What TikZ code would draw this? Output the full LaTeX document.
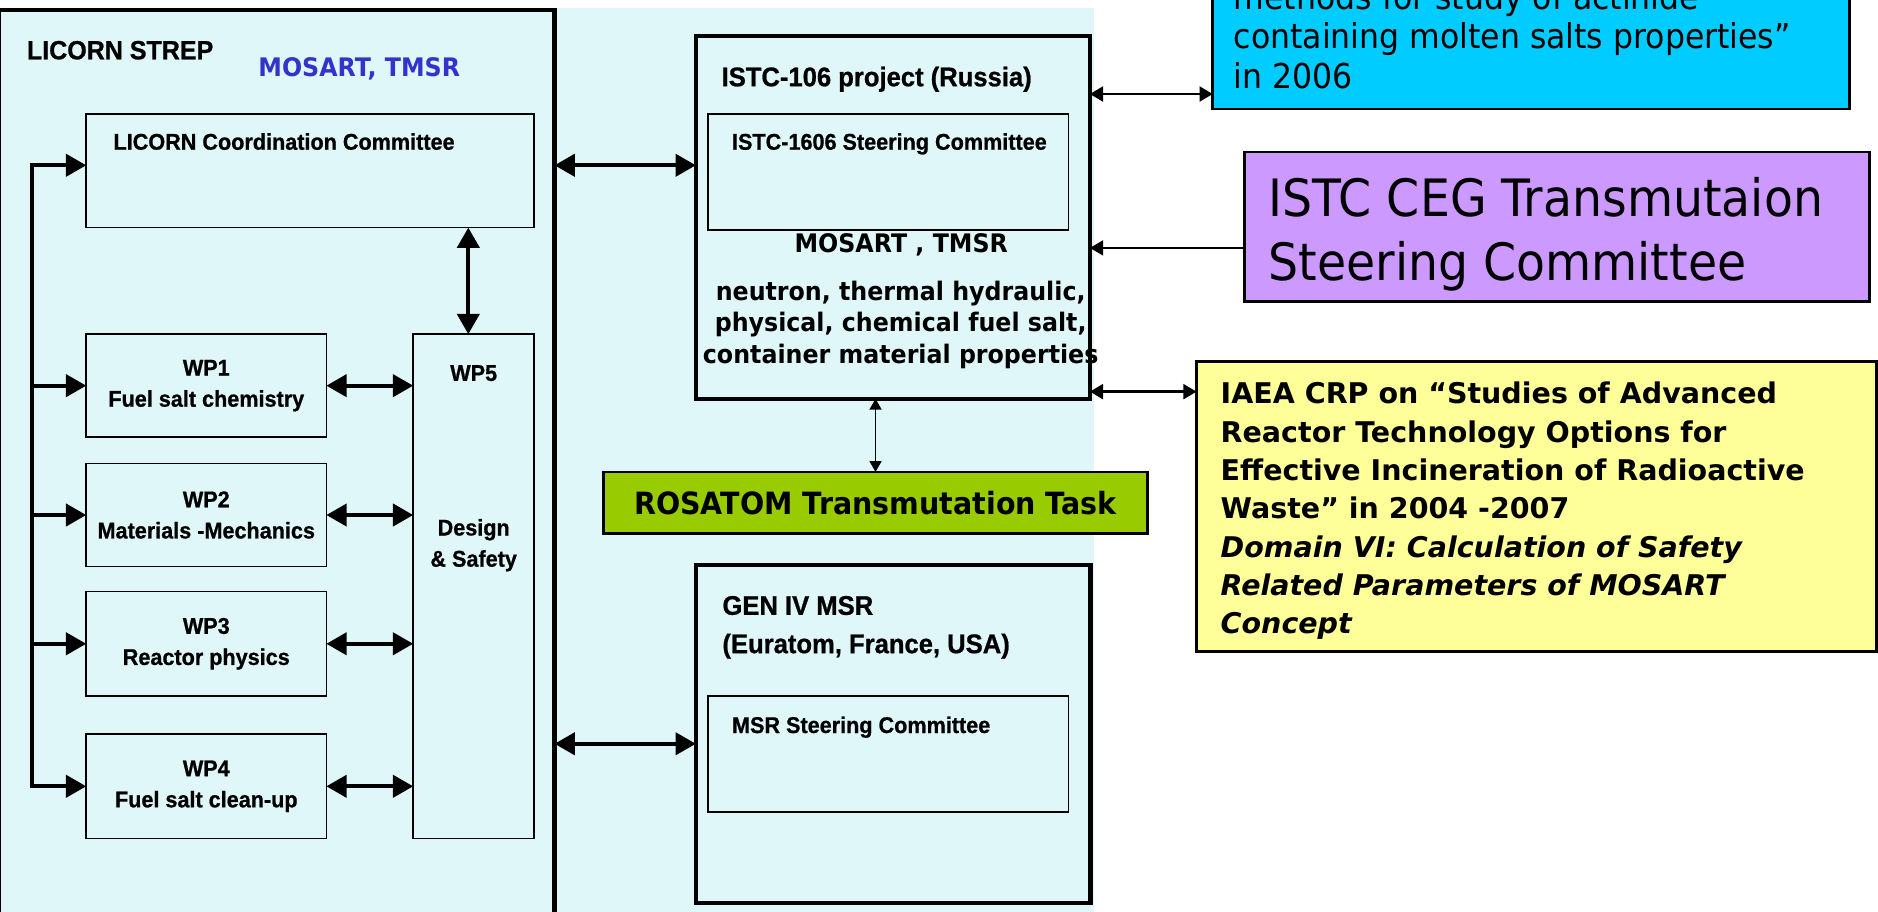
\documentclass[tikz,border=0pt]{standalone}
\usepackage{fontspec}
\usepackage{tikz}
\usetikzlibrary{arrows.meta, positioning}

\newfontfamily\arialfont[FakeStretch=0.95, FakeBold=0.8]{Liberation Sans Bold}
\newfontfamily\tahomafont[FakeStretch=0.92]{DejaVu Sans}
\newfontfamily\tahomabold[FakeStretch=0.93]{DejaVu Sans}
\newfontfamily\verdanafont{DejaVu Sans}

\definecolor{paleCyan}{RGB}{224,247,250}
\definecolor{skyBlue}{RGB}{0,204,255}
\definecolor{lilac}{RGB}{204,153,255}
\definecolor{paleYellow}{RGB}{255,255,153}
\definecolor{limeGreen}{RGB}{153,204,0}
\definecolor{textBlue}{RGB}{51,51,204}

\begin{document}
\begin{tikzpicture}[x=1pt,y=-1pt,
        frame/.style={draw, line width=3.5pt, inner sep=0pt, outer sep=0pt},
        box/.style={draw, line width=1.3pt, inner sep=0pt, outer sep=0pt},
        colbox/.style={draw, line width=2.3pt, inner sep=0pt, outer sep=0pt},
        lbl/.style={inner sep=0pt, anchor=base west},
        wpf/.style={font=\arialfont\fontsize{19}{26}\selectfont},
        headf/.style={font=\arialfont\fontsize{22.5}{32}\selectfont},
        mosf/.style={font=\tahomabold\bfseries\fontsize{21.3}{26.3}\selectfont},
        rosf/.style={font=\tahomabold\bfseries\fontsize{25.6}{30}\selectfont},
        iaeaf/.style={font=\verdanafont\bfseries\fontsize{23.8}{32}\selectfont},
        cegf/.style={font=\tahomafont\fontsize{43}{53}\selectfont},
        projf/.style={font=\tahomafont\fontsize{28.6}{33}\selectfont},
        bigarr/.style={line width=3.3pt, >={Triangle[length=17pt,width=18.5pt]}},
        thinarr/.style={line width=2pt, >={Triangle[length=11pt,width=12.5pt]}},
        cegarr/.style={line width=1.5pt, >={Triangle[length=11pt,width=12.5pt]}},
        rosarr/.style={line width=1.3pt, >={Triangle[length=9pt,width=10pt]}}]

    \useasboundingbox (0,0) rectangle (1568,761);
    \fill[paleCyan] (0,7) rectangle (913,775);

    % LICORN STREP
    \node[frame, minimum width=463.5pt, minimum height=766pt] (licorn) at (231.25,391.5) {};
    \node[lbl, font=\arialfont\fontsize{22}{26}\selectfont] (strep) at (22.3,49.5) {LICORN STREP};
    \node[lbl, mosf, text=textBlue] (strepdesign) at (215.6,64) {MOSART, TMSR};

    \node[box, minimum width=374pt, minimum height=95pt] (coord) at (259,142.5) {};
    \node[lbl, wpf] (coordtitle) at (94.6,125) {LICORN Coordination Committee};

    \node[box, wpf, align=center, minimum width=200.5pt, minimum height=86pt] (wp1) at (172.25,322) {WP1\\Fuel salt chemistry};
    \node[box, wpf, align=center, minimum width=200.5pt, minimum height=86pt] (wp2) [below=22pt of wp1] {WP2\\Materials -Mechanics};
    \node[box, wpf, align=center, minimum width=200.5pt, minimum height=87pt] (wp3) [below=21pt of wp2] {WP3\\Reactor physics};
    \node[box, wpf, align=center, minimum width=200.5pt, minimum height=87pt] (wp4) [below=32pt of wp3] {WP4\\Fuel salt clean-up};

    \node[box, minimum width=101pt, minimum height=421pt] (wp5) at (395.5,489.5) {};
    \node[inner sep=0pt, anchor=base, wpf] (wp5num) at (395.5,318) {WP5};
    \node[inner sep=0pt, wpf, align=center] (wp5name) at (395.5,455.2) {Design\\\& Safety};

    % ISTC and GEN IV
    \node[frame, minimum width=329pt, minimum height=303pt] (istc) at (745.5,181.5) {};
    \node[lbl, headf] (istctitle) at (602.3,72) {ISTC-106 project (Russia)};
    \node[box, minimum width=301pt, minimum height=97pt] (istcsc) at (741.5,143.5) {};
    \node[lbl, wpf] (istcsctitle) at (611,125) {ISTC-1606 Steering Committee};
    \node[inner sep=0pt, anchor=base, mosf] (istcdesign) at (752.5,211) {MOSART , TMSR};
    \node[inner sep=0pt, mosf, align=center] (istctopics) at (752,271.2) {neutron, thermal hydraulic,\\physical, chemical fuel salt,\\container material properties};

    \node[colbox, fill=limeGreen, rosf, minimum width=454pt, minimum height=51.5pt] (rosatom) at (731,419.75) {ROSATOM Transmutation Task};

    \node[frame, minimum width=329.5pt, minimum height=282pt] (gen) at (745.75,613) {};
    \node[inner sep=0pt, anchor=west, headf, align=left] (gentitle) at (603,523.8) {GEN IV MSR\\(Euratom, France, USA)};
    \node[box, minimum width=301pt, minimum height=97pt] (msrsc) at (741.5,629.5) {};
    \node[lbl, wpf] (msrsctitle) at (611,612) {MSR Steering Committee};

    % right column
    \node[colbox, fill=skyBlue, minimum width=531.5pt, minimum height=151pt] (project) at (1278.25,15.5) {};
    \node[inner sep=0pt, anchor=west, projf, align=left] (projtext) at (1030,30.15) {methods for study of actinide\\containing molten salts properties”\\in 2006};

    \node[colbox, fill=lilac, minimum width=522pt, minimum height=125pt] (ceg) at (1300,189.5) {};
    \node[inner sep=0pt, anchor=west, cegf, align=left] (cegtext) at (1059,195.8) {ISTC CEG Transmutaion\\Steering Committee};

    \node[colbox, fill=paleYellow, minimum width=568pt, minimum height=242pt] (iaea) at (1283,423) {};
    \node[inner sep=0pt, anchor=west, iaeaf, align=left] (iaeatext) at (1019,426.55) {IAEA CRP on “Studies of Advanced\\Reactor Technology Options for\\Effective Incineration of Radioactive\\Waste” in 2004 -2007\\{\itshape Domain VI: Calculation of Safety}\\{\itshape Related Parameters of MOSART}\\{\itshape Concept}};

    % links inside LICORN
    \coordinate (coordin) at ([yshift=4.5pt]coord.west);
    \coordinate (bus) at (27,0);
    \draw[bigarr,<->] (coordin) -| (bus |- wp4.west) -- (wp4.west);
    \foreach \w in {wp1,wp2,wp3}
        \draw[bigarr,->] (bus |- \w.west) -- (\w.west);
    \foreach \w in {wp1,wp2,wp3,wp4}
        \draw[bigarr,<->] (\w.east) -- (\w.east -| wp5.west);
    \coordinate (wp5link) at ([xshift=-4.5pt]wp5.north);
    \draw[bigarr,<->] (wp5link |- coord.south) -- (wp5link);

    % links between projects
    \draw[bigarr,<->] (coordin -| licorn.east) -- (coordin -| istc.west);
    \coordinate (genin) at ([yshift=-8pt]gen.west);
    \draw[bigarr,<->] (genin -| licorn.east) -- (genin);

    \coordinate (projin) at ([yshift=103pt]istc.east);
    \draw[thinarr,<->] (projin) -- (projin -| project.west);
    \coordinate (cegout) at ([yshift=-17.5pt]ceg.west);
    \draw[cegarr,->] (cegout) -- (cegout -| istc.east);
    \coordinate (iaeain) at ([yshift=6pt]istc.south east);
    \draw[thinarr,<->] (iaeain) -- (iaeain -| iaea.west);
    \draw[rosarr,<->] (rosatom.north |- istc.south) -- (rosatom.north);
\end{tikzpicture}
\end{document}
